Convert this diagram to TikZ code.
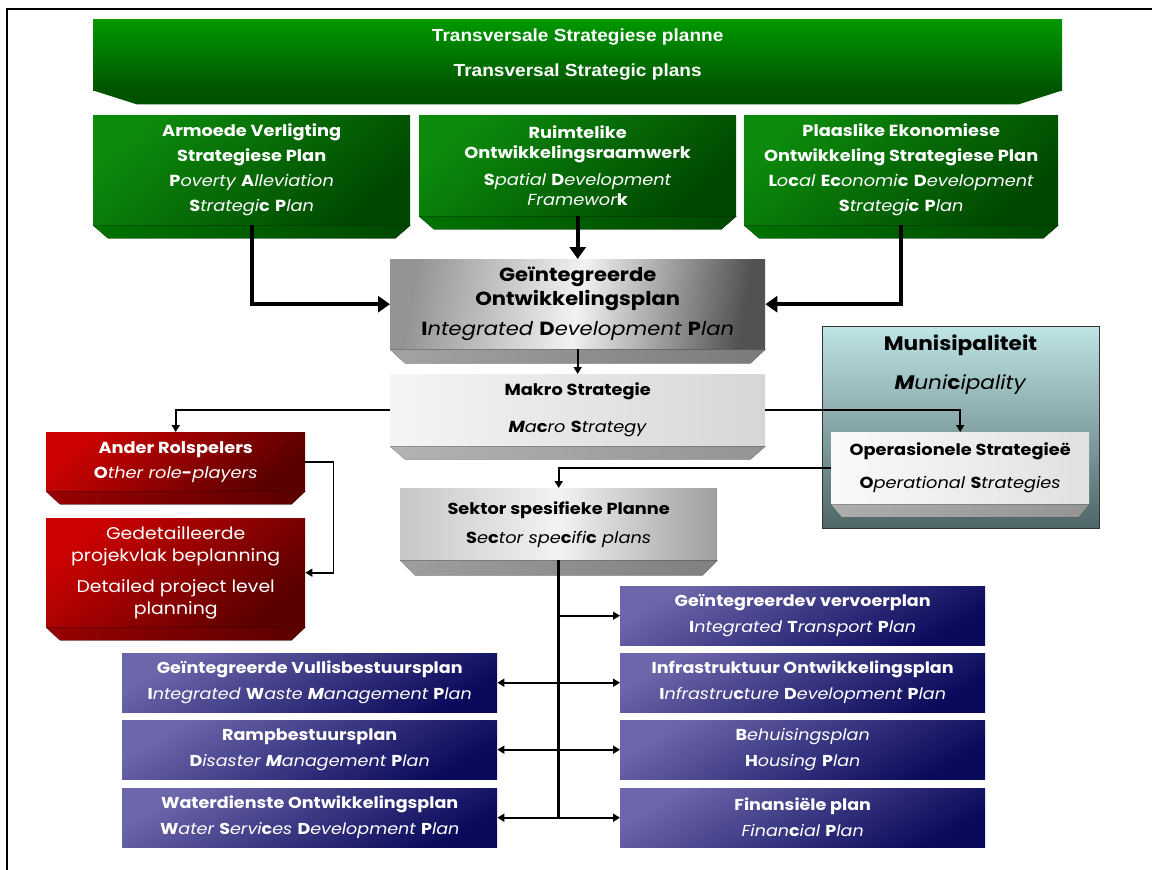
\documentclass[tikz,border=0pt]{standalone}
\usepackage{fontspec}
\setmainfont{Poppins}[FakeStretch=1.11]
\newfontfamily\bannerfont[FakeStretch=1.09]{Liberation Sans}
\usetikzlibrary{arrows.meta}
\newcommand\bl[1]{{\upshape\bfseries #1}}
\newcommand\bi[1]{{\bfseries #1}}
\definecolor{gTL}{HTML}{0C8A0C}
\definecolor{gBR}{HTML}{004800}
\definecolor{rTL}{HTML}{CC0202}
\definecolor{rBR}{HTML}{5A0000}
\definecolor{bTL}{HTML}{6C66AA}
\definecolor{bBR}{HTML}{0A0A5C}
\definecolor{mTop}{HTML}{BEE4E6}
\definecolor{mBot}{HTML}{4E6567}
\newcommand\bevel[4]{%
  \fill[#4] (#1.south west) -- (#1.south east) -- ([xshift=-#2pt,yshift=-#3pt]#1.south east) -- ([xshift=#2pt,yshift=-#3pt]#1.south west) -- cycle;}
\begin{document}
\begin{tikzpicture}[x=1pt,y=-1pt,
  base/.style={anchor=north west, inner sep=0pt, align=center},
  gbox/.style={base, text=white, shading=axis, top color=gTL, bottom color=gBR, shading angle=40},
  rbox/.style={base, text=white, shading=axis, top color=rTL, bottom color=rBR, shading angle=40},
  bbox/.style={base, text=white, shading=axis, top color=bTL, bottom color=bBR, shading angle=30,
     minimum height=59pt, font=\fontsize{15.8}{26}\selectfont},
  gbev/.style={left color=green!45!black, right color=gBR},
  rbev/.style={left color=rTL!75!black, right color=rBR},
  graybev/.style={left color=black!36, right color=black!52},
  thickarr/.style={line width=4pt, -{Triangle[length=12pt,width=16pt]}},
  thinarr/.style={line width=1.6pt, -{Triangle[length=7pt,width=8pt]}},
  secarr/.style={line width=2pt, -{Triangle[length=7pt,width=8pt]}},
  dblarr/.style={line width=2pt, {Triangle[length=7pt,width=8pt]}-{Triangle[length=7pt,width=8pt]}},
]
\useasboundingbox (0,0) rectangle (1152,870);
\fill[white] (0,0) rectangle (1152,870);
\draw[line width=2pt] (7,870) -- (7,9) -- (1152,9);

% top banner
\node[gbox, top color=green!60!black, bottom color=green!33!black, minimum width=969pt, minimum height=71pt,
  font=\bannerfont\bfseries\fontsize{17.5}{35}\selectfont] (ban) at (93,19)
  {Transversale Strategiese planne\\Transversal Strategic plans};
\bevel{ban}{44}{14}{fill=green!33!black}

% three green boxes
\node[gbox, minimum width=317pt, minimum height=110pt, font=\fontsize{16}{25}\selectfont] (g1) at (93,115)
  {\textbf{Armoede Verligting}\\\textbf{Strategiese Plan}\\\textit{\bl{P}overty \bl{A}lleviation}\\\textit{\bl{S}trategi\bl{c} \bl{P}lan}};
\node[gbox, minimum width=317pt, minimum height=101pt, font=\fontsize{16}{20}\selectfont] (g2) at (419,115)
  {\textbf{Ruimtelike}\\\textbf{Ontwikkelingsraamwerk}\\[7pt]\textit{\bl{S}patial \bl{D}evelopment}\\\textit{Framewor\bl{k}}};
\node[gbox, minimum width=314pt, minimum height=110pt, font=\fontsize{16}{25}\selectfont] (g3) at (744,115)
  {\textbf{Plaaslike Ekonomiese}\\\textbf{Ontwikkeling Strategiese Plan}\\\textit{\bl{L}o\bl{c}al \bl{Ec}onomi\bl{c} \bl{D}evelopment}\\\textit{\bl{S}trategi\bl{c} \bl{P}lan}};
\bevel{g1}{15}{13}{gbev}
\bevel{g2}{15}{13}{gbev}
\bevel{g3}{15}{13}{gbev}

% IDP
\node[base, left color=black!42, right color=black!68, middle color=black!5, shading angle=80, minimum width=375pt, minimum height=90pt,
  font=\fontsize{19}{24}\selectfont] (idp) at (390,259)
  {\textbf{Geïntegreerde}\\\textbf{Ontwikkelingsplan}\\[6pt]\textit{\bl{I}ntegrated \bl{D}evelopment \bl{P}lan}};
\bevel{idp}{15}{14}{graybev}

% Makro
\node[base, left color=black!4, right color=black!16, minimum width=375pt, minimum height=72pt,
  font=\fontsize{16}{37}\selectfont] (mak) at (390,374)
  {\textbf{Makro Strategie}\\\textit{\bi{M}a\bl{c}ro \bl{S}trategy}};
\bevel{mak}{15}{13}{left color=black!30, right color=black!42}

% Municipality
\node[base, draw=black!80, line width=1.2pt, top color=mTop, bottom color=mBot, minimum width=277pt, minimum height=202pt] (mun) at (822,326) {};
\node[font=\fontsize{19.5}{39}\selectfont, align=center, inner sep=0pt] (munt) at (960.5,365)
  {\textbf{Munisipaliteit}\\\textit{\bi{M}uni\bl{c}ipality}};
\node[base, left color=black!2, right color=black!12, minimum width=258pt, minimum height=72pt,
  font=\fontsize{16}{33}\selectfont] (op) at (831,432)
  {\textbf{Operasionele Strategieë}\\\textit{\bl{O}perational \bl{S}trategies}};
\bevel{op}{11}{13}{left color=black!32, right color=black!42}

% red boxes
\node[rbox, minimum width=259pt, minimum height=59pt, font=\fontsize{16}{25}\selectfont] (and) at (46,432)
  {\textbf{Ander Rolspelers}\\\textit{\bl{O}ther role\bl{-}players}};
\bevel{and}{14}{13}{rbev}
\node[rbox, minimum width=259pt, minimum height=109pt, font=\fontsize{17}{22}\selectfont] (ged) at (46,518)
  {Gedetailleerde\\projekvlak beplanning\\[9pt]Detailed project level\\planning};
\bevel{ged}{14}{13}{rbev}

% Sektor
\node[base, left color=black!22, right color=black!38, middle color=black!5, minimum width=317pt, minimum height=72pt,
  font=\fontsize{16}{29}\selectfont] (sek) at (400,488)
  {\textbf{Sektor spesifieke Planne}\\\textit{\bl{S}e\bl{c}tor spe\bl{c}ifi\bl{c} plans}};
\bevel{sek}{15}{15}{left color=black!38, right color=black!50}

% blue boxes right
\node[bbox, minimum width=365pt] (r1) at (620,586)
  {\textbf{Geïntegreerdev vervoerplan}\\\textit{\bl{I}ntegrated \bl{T}ransport \bl{P}lan}};
\node[bbox, minimum width=365pt] (r2) at (620,653)
  {\textbf{Infrastruktuur Ontwikkelingsplan}\\\textit{\bl{I}nfrastru\bl{c}ture \bl{D}evelopment \bl{P}lan}};
\node[bbox, minimum width=365pt] (r3) at (620,720)
  {\textit{\bl{B}ehuisingsplan}\\\textit{\bl{H}ousing \bl{P}lan}};
\node[bbox, minimum width=365pt] (r4) at (620,788)
  {\textbf{Finansiële plan}\\\textit{Finan\bl{c}ial \bl{P}lan}};
% blue boxes left
\node[bbox, minimum width=375pt] (l1) at (122,653)
  {\textbf{Geïntegreerde Vullisbestuursplan}\\\textit{\bl{I}ntegrated \bl{W}aste \bi{M}anagement \bl{P}lan}};
\node[bbox, minimum width=375pt] (l2) at (122,720)
  {\textbf{Rampbestuursplan}\\\textit{\bl{D}isaster \bi{M}anagement \bl{P}lan}};
\node[bbox, minimum width=375pt] (l3) at (122,788)
  {\textbf{Waterdienste Ontwikkelingsplan}\\\textit{\bl{W}ater \bl{S}ervi\bl{c}es \bl{D}evelopment \bl{P}lan}};

% connectors
\draw[thickarr] (g1.south) |- (idp.west);
\draw[thickarr] (g2.south) -- (idp.north);
\draw[thickarr] (g3.south) |- (idp.east);
\draw[thinarr] (idp.south) -- (mak.north);
\draw[thinarr] (mak.west) -| (and.north);
\draw[thinarr] (mak.east) -| (op.north);
\coordinate (ajog) at ([xshift=28pt]and.east);
\draw[thinarr] (and.east) -- (ajog) |- (ged.east);
\draw[thinarr] (op.west) -| (sek.north);
\coordinate (spineend) at (sek.south |- l3.east);
\draw[line width=2.5pt] (sek.south) -- (spineend);
\draw[secarr] (sek.south |- r1.west) -- (r1.west);
\draw[dblarr] (l1.east) -- (r2.west);
\draw[dblarr] (l2.east) -- (r3.west);
\draw[dblarr] (l3.east) -- (r4.west);
\end{tikzpicture}
\end{document}
